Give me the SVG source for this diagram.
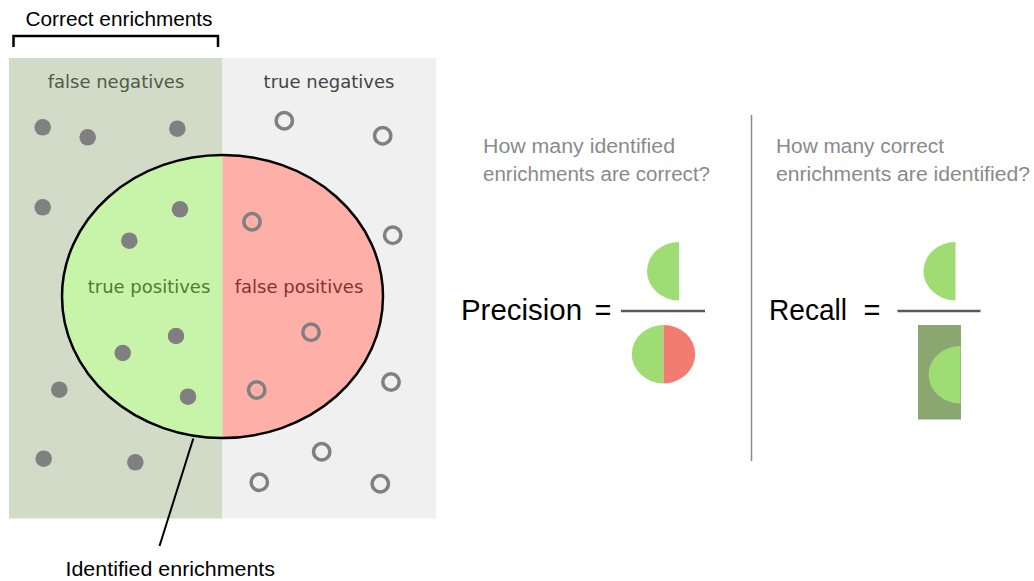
<svg xmlns="http://www.w3.org/2000/svg" width="1034" height="581" viewBox="0 0 1034 581">
  <style>
    .lbl { font-family: "Liberation Sans", Arial, sans-serif; }
    .region { font-family: "DejaVu Sans", sans-serif; font-size: 18px; text-anchor: middle; }
    .q { font-family: "Liberation Sans", Arial, sans-serif; font-size: 20px; fill: #8a8a8a; }
    .eq { font-family: "Liberation Sans", Arial, sans-serif; font-size: 29px; fill: #000; }
    .pos { fill: #808080; }
    .neg { fill: none; stroke: #808080; stroke-width: 3.5; }
    .bar { stroke: #5a5a5a; stroke-width: 2.5; }
    .gr { fill: #9fdc74; }
    .rd { fill: #f27c70; }
  </style>

  <rect width="1034" height="581" fill="#ffffff"/>

  <!-- population panel -->
  <g id="population">
    <rect x="9" y="58" width="213.5" height="460.5" fill="#d1dbc8"/>
    <rect x="222.5" y="58" width="213.5" height="460.5" fill="#f0f0f0"/>
    <text class="region" x="116" y="88" fill="#4e5b45">false negatives</text>
    <text class="region" x="329" y="88" fill="#444444">true negatives</text>
  </g>

  <!-- identified set -->
  <g id="identified">
    <clipPath id="leftHalf"><rect x="0" y="0" width="222.5" height="581"/></clipPath>
    <clipPath id="rightHalf"><rect x="222.5" y="0" width="300" height="581"/></clipPath>
    <ellipse cx="222.5" cy="296.5" rx="160.5" ry="141.5" fill="#c8f4a9" clip-path="url(#leftHalf)"/>
    <ellipse cx="222.5" cy="296.5" rx="160.5" ry="141.5" fill="#feb0a8" clip-path="url(#rightHalf)"/>
    <ellipse cx="222.5" cy="296.5" rx="160.5" ry="141.5" fill="none" stroke="#000" stroke-width="2.5"/>
    <text class="region" x="149" y="293" fill="#4f7b36">true positives</text>
    <text class="region" x="299" y="293" fill="#8b2f2f">false positives</text>
  </g>

  <!-- relevant items -->
  <g id="relevant-items">
    <circle class="pos" cx="42.7" cy="127.3" r="8.3"/>
    <circle class="pos" cx="87.7" cy="137.3" r="8.3"/>
    <circle class="pos" cx="177.3" cy="128.7" r="8.3"/>
    <circle class="pos" cx="42.7" cy="207.3" r="8.3"/>
    <circle class="pos" cx="180" cy="209.3" r="8.3"/>
    <circle class="pos" cx="129.3" cy="240.7" r="8.3"/>
    <circle class="pos" cx="176" cy="336" r="8.3"/>
    <circle class="pos" cx="122.7" cy="353" r="8.3"/>
    <circle class="pos" cx="59.3" cy="389.7" r="8.3"/>
    <circle class="pos" cx="188" cy="396.7" r="8.3"/>
    <circle class="pos" cx="43.7" cy="458.7" r="8.3"/>
    <circle class="pos" cx="135.3" cy="462.3" r="8.3"/>
  </g>

  <!-- non-relevant items -->
  <g id="other-items">
    <circle class="neg" cx="284.3" cy="120.7" r="8.2"/>
    <circle class="neg" cx="382.7" cy="135.7" r="8.2"/>
    <circle class="neg" cx="252" cy="221.7" r="8.2"/>
    <circle class="neg" cx="392.7" cy="235.3" r="8.2"/>
    <circle class="neg" cx="311" cy="332.3" r="8.2"/>
    <circle class="neg" cx="256.7" cy="390" r="8.2"/>
    <circle class="neg" cx="391" cy="382" r="8.2"/>
    <circle class="neg" cx="321.7" cy="451.7" r="8.2"/>
    <circle class="neg" cx="259.3" cy="482.3" r="8.2"/>
    <circle class="neg" cx="380.3" cy="483.7" r="8.2"/>
  </g>

  <!-- annotations -->
  <g id="connectors">
    <path d="M13.5 47 V36 H218 V47" fill="none" stroke="#000" stroke-width="2.5"/>
    <line x1="193.3" y1="438.5" x2="159.5" y2="546" stroke="#000" stroke-width="2"/>
    <line x1="751.5" y1="115" x2="751.5" y2="461" stroke="#8a8a8a" stroke-width="1.5"/>
  </g>

  <g id="label-correct">
    <text class="lbl" x="25.5" y="26" font-size="19.5" textLength="187" lengthAdjust="spacingAndGlyphs">Correct enrichments</text>
  </g>
  <g id="label-identified">
    <text class="lbl" x="65.5" y="576" font-size="20" textLength="209.5" lengthAdjust="spacingAndGlyphs">Identified enrichments</text>
  </g>

  <!-- precision -->
  <g id="precision">
    <text class="q" x="483" y="153" textLength="192" lengthAdjust="spacingAndGlyphs">How many identified</text>
    <text class="q" x="483" y="180.5" textLength="227" lengthAdjust="spacingAndGlyphs">enrichments are correct?</text>
    <text class="eq" x="461" y="320" textLength="121" lengthAdjust="spacingAndGlyphs">Precision</text>
    <text class="eq" x="594.5" y="320">=</text>
    <line class="bar" x1="621" y1="311" x2="705" y2="311"/>
    <path class="gr" d="M679 242 A32 29.2 0 0 0 679 300.4 Z"/>
    <path class="gr" d="M663.5 325 A31.7 29.2 0 0 0 663.5 383.4 Z"/>
    <path class="rd" d="M663.5 325 A31.7 29.2 0 0 1 663.5 383.4 Z"/>
  </g>

  <!-- recall -->
  <g id="recall">
    <text class="q" x="776" y="153" textLength="168" lengthAdjust="spacingAndGlyphs">How many correct</text>
    <text class="q" x="776" y="180.5" textLength="254" lengthAdjust="spacingAndGlyphs">enrichments are identified?</text>
    <text class="eq" x="769" y="319.5" textLength="78" lengthAdjust="spacingAndGlyphs">Recall</text>
    <text class="eq" x="863.5" y="320">=</text>
    <line class="bar" x1="897.5" y1="311" x2="980.5" y2="311"/>
    <path class="gr" d="M955.5 242 A32 29.2 0 0 0 955.5 300.4 Z"/>
    <rect x="918" y="325" width="43" height="94.5" fill="#8aa771"/>
    <path class="gr" d="M960.5 346 A32 28.7 0 0 0 960.5 403.4 Z"/>
  </g>
</svg>
